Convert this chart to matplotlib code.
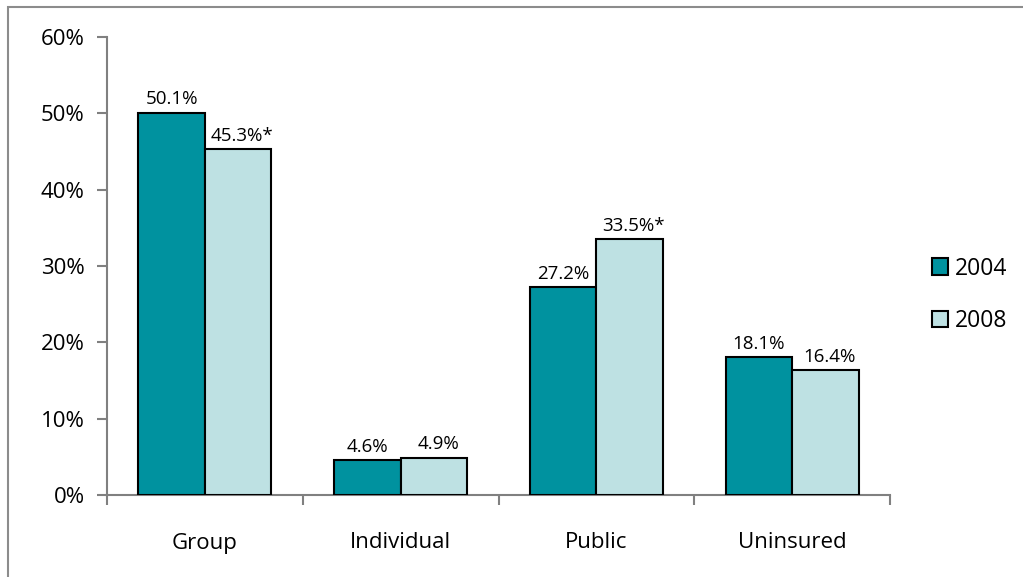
import matplotlib
matplotlib.use("Agg")
import matplotlib.pyplot as plt
import numpy as np
from matplotlib.patches import Rectangle

categories = ["Group", "Individual", "Public", "Uninsured"]
series_names = ["2004", "2008"]
values_2004 = [50.1, 4.6, 27.2, 18.1]
values_2008 = [45.3, 4.9, 33.5, 16.4]
labels_2004 = ["50.1%", "4.6%", "27.2%", "18.1%"]
labels_2008 = ["45.3%*", "4.9%", "33.5%*", "16.4%"]
yticks = [0, 10, 20, 30, 40, 50, 60]
ytick_labels = ["0%", "10%", "20%", "30%", "40%", "50%", "60%"]

plt.rcParams['font.family'] = ['Open Sans', 'DejaVu Sans']

c1 = "#00929F"
c2 = "#BEE1E3"
axis_gray = "#808080"

fig = plt.figure(figsize=(10.23, 5.77), dpi=100)
W, H = 1023, 577
ax = fig.add_axes([107 / W, 1 - 495 / H, (890 - 107) / W, (495 - 37) / H])

x = np.arange(len(categories))
bw = 0.34
b1 = ax.bar(x - bw / 2, values_2004, bw, color=c1, edgecolor="black", linewidth=1.5, label=series_names[0], zorder=3)
b2 = ax.bar(x + bw / 2, values_2008, bw, color=c2, edgecolor="black", linewidth=1.5, label=series_names[1], zorder=3)

for rect, lab in zip(b1, labels_2004):
    ax.annotate(lab, (rect.get_x() + rect.get_width() / 2, rect.get_height()),
                xytext=(0, 3), textcoords="offset points", ha="center", va="bottom", fontsize=13.5)
for rect, lab in zip(b2, labels_2008):
    ax.annotate(lab, (rect.get_x() + rect.get_width() / 2, rect.get_height()),
                xytext=(3, 3), textcoords="offset points", ha="center", va="bottom", fontsize=13.5)

ax.set_xlim(-0.5, len(categories) - 0.5)
ax.set_ylim(0, 60)
ax.set_yticks(yticks)
ax.set_yticklabels(ytick_labels, fontsize=16)
ax.set_xticks(x)
ax.set_xticklabels(categories, fontsize=16)
ax.tick_params(axis="x", length=0, pad=27)
ax.set_xticks(np.arange(-0.5, len(categories)), minor=True)
ax.tick_params(axis="x", which="minor", length=7, color=axis_gray, width=1.5, direction="out")
ax.tick_params(axis="y", length=7, color=axis_gray, width=1.5, direction="out", pad=9)

for s in ["top", "right"]:
    ax.spines[s].set_visible(False)
for s in ["left", "bottom"]:
    ax.spines[s].set_color(axis_gray)
    ax.spines[s].set_linewidth(1.5)

leg = ax.legend(loc="center left", bbox_to_anchor=(1.054, 0.437), frameon=False, fontsize=16.5,
                handlelength=0.7, handleheight=0.7, handletextpad=0.3, labelspacing=1.25,
                borderpad=0, borderaxespad=0)

# outer border of the chart area
fig.patches.append(Rectangle((8 / W, -0.05), 1.2, 1 - 7 / H + 0.05, transform=fig.transFigure,
                             fill=False, edgecolor="#8C8C8C", linewidth=1.5))

fig.savefig("out.png", dpi=100)
